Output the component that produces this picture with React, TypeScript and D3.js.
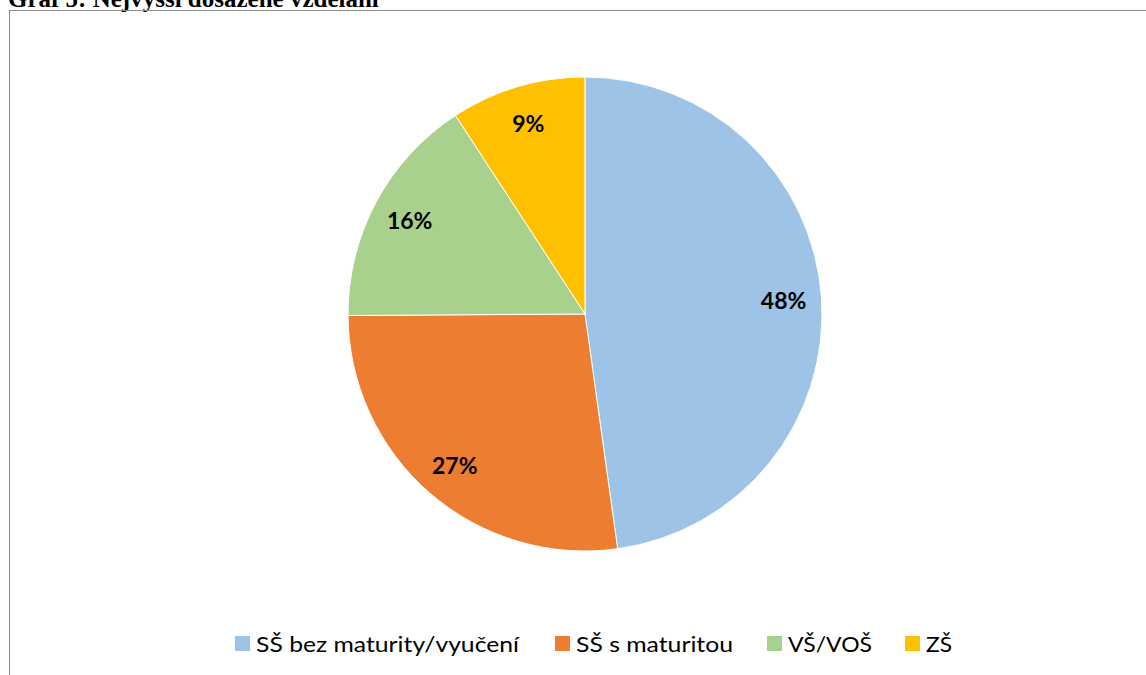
import React from "react";
import * as d3 from "d3";

const categories = ["SŠ bez maturity/vyučení", "SŠ s maturitou", "VŠ/VOŠ", "ZŠ"];
const values = [47.8, 27.1, 15.9, 9.2];
const labels = ["48%", "27%", "16%", "9%"];
const colors = ["#9dc3e6", "#ed7d31", "#a9d18e", "#ffc000"];

export default function App() {
  const W = 1146, H = 675;
  const cx = 585, cy = 314, r = 237;
  const pie = d3.pie<number>().sort(null).value((d) => d);
  const arcs = pie(values);
  const arc = d3.arc<d3.PieArcDatum<number>>().innerRadius(0).outerRadius(r);
  const labelArc = d3.arc<d3.PieArcDatum<number>>().innerRadius(r * 0.84).outerRadius(r * 0.84);

  // legend layout: swatch + text, text widths fixed by font metrics approx
  const legendScale = d3.scalePoint<string>().domain(categories).range([0, 1]);
  const legendStarts = [235, 555, 767, 905];
  const legendWidths = [263, 157, 84, 26];
  void legendScale;

  return (
    <svg width={W} height={H} style={{ position: "fixed", left: 0, top: 0 }}>
      <rect x={0} y={0} width={W} height={H} fill="#fff" />
      <text x={8} y={7} fontFamily="Liberation Serif" fontWeight="bold" fontSize={25} fill="#000">
        Graf 5: Nejvyšší dosažené vzdělání
      </text>
      <rect x={9.5} y={10.5} width={W + 10} height={H + 10} fill="none" stroke="#8c8c8c" strokeWidth={1} />
      <g transform={`translate(${cx},${cy})`}>
        {arcs.map((a, i) => (
          <path key={i} d={arc(a) || ""} fill={colors[i]} stroke="#fff" strokeWidth={1} />
        ))}
        {arcs.map((a, i) => {
          const [x, y] = labelArc.centroid(a);
          return (
            <text key={"l" + i} x={x} y={y} textAnchor="middle" dominantBaseline="central"
              fontFamily="Lato" fontWeight="bold" fontSize={23} fill="#000">
              {labels[i]}
            </text>
          );
        })}
      </g>
      {categories.map((c, i) => (
        <g key={"lg" + i} transform={`translate(${legendStarts[i]},643)`}>
          <rect x={0} y={-7} width={15} height={15} fill={colors[i]} />
          <text x={21} y={0} dominantBaseline="central" fontFamily="Lato" fontSize={22} fill="#000"
            textLength={legendWidths[i]} lengthAdjust="spacingAndGlyphs">
            {c}
          </text>
        </g>
      ))}
    </svg>
  );
}
